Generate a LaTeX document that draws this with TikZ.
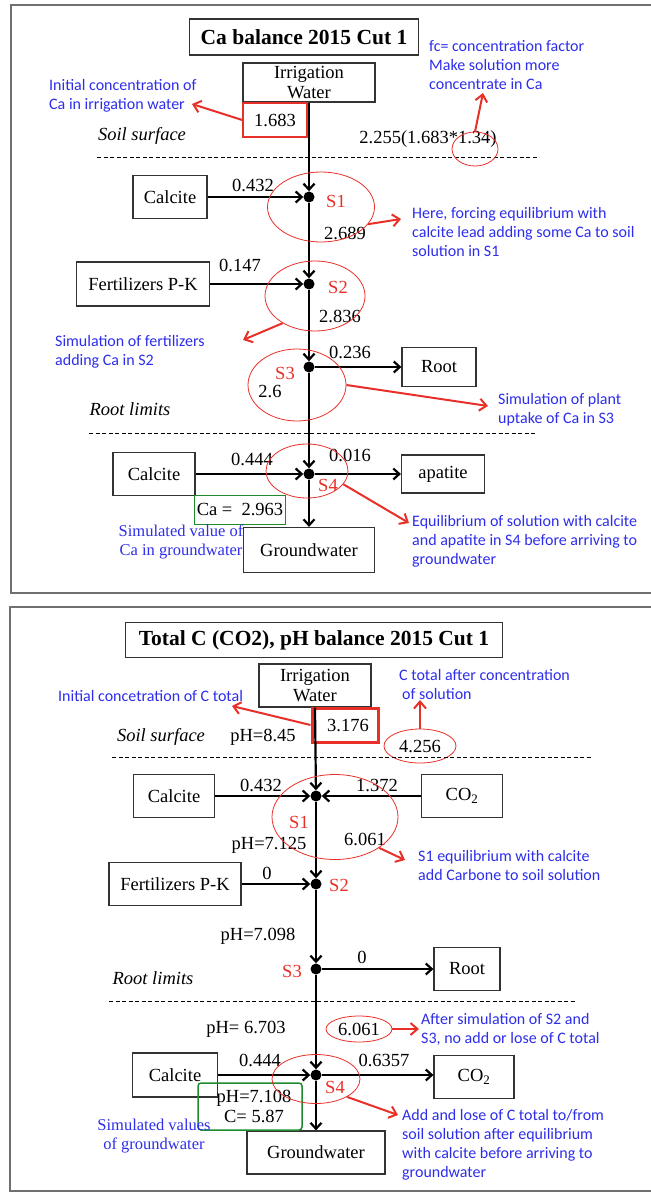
\documentclass[tikz,border=0pt]{standalone}
\usepackage{fontspec}
\setmainfont{Liberation Serif}
\newfontfamily\notefont{Carlito}
\usetikzlibrary{shapes.geometric,arrows.meta}

\definecolor{noteblue}{RGB}{45,45,235}
\definecolor{markred}{RGB}{232,48,40}
\definecolor{okgreen}{RGB}{30,140,45}
\definecolor{framegray}{RGB}{112,112,112}

\newcommand\bodysize{\fontsize{18.5}{20}\selectfont}
\newcommand\notesize{\fontsize{16}{19}\selectfont}
\newcommand\titlesize{\fontsize{21.5}{24}\selectfont}

\begin{document}
\begin{tikzpicture}[
  x=1pt, y=-1pt,
  box/.style={draw=black!80, line width=1.2pt, align=center, inner sep=0pt,
              font=\bodysize},
  heading/.style={box, font=\titlesize\bfseries},
  valbox/.style={draw=markred, line width=1.6pt, inner sep=0pt, font=\bodysize},
  simbox/.style={draw=okgreen, line width=1.5pt, inner sep=0pt, align=center,
                 font=\bodysize},
  dot/.style={circle, fill=black, minimum size=11pt, inner sep=0},
  flow/.style={-{Straight Barb[length=6pt,width=11pt]}, line width=2.2pt},
  callout/.style={-{Straight Barb[length=7pt,width=12pt]}, line width=2pt, markred},
  ring/.style={draw=markred, ellipse, line width=0.8pt, inner sep=0pt, font=\bodysize},
  num/.style={font=\bodysize, inner sep=0},
  tag/.style={font=\bodysize, text=markred, inner sep=0},
  layer/.style={font=\bodysize\itshape, inner sep=0},
  divider/.style={line width=0.9pt, dash pattern=on 4pt off 2.5pt},
  note/.style={font=\notefont\notesize, text=noteblue, align=left, anchor=west,
               inner sep=0},
  simnote/.style={font=\fontsize{16.5}{18.5}\selectfont, text=noteblue,
                  align=center, inner sep=0},
  frame/.style={draw=framegray, line width=1.6pt}
]
\useasboundingbox (0,0) rectangle (650,1193);

%% ── Panel frames ──────────────────────────────────────────────────────────────
\draw[frame] (652,5) -- (11,5) -- (11,593) -- (652,593);
\draw[frame] (652,607) -- (10,607) -- (10,1191) -- (652,1191);

%% ══ Panel 1: Ca balance ══════════════════════════════════════════════════════
\node[heading, minimum width=229pt, minimum height=36pt] (title1) at (304,37)
  {Ca balance 2015 Cut 1};
\node[box, minimum width=132pt, minimum height=39pt] (irr1) at (309,82.5)
  {Irrigation\\Water};
\node[valbox, minimum width=64pt, minimum height=34pt] (val1) at (275,120) {1.683};

\node[layer] (surf1) at (142,136) {Soil surface};
\node[num]   (fc1)   at (428,139) {2.255(1.683*1.34)};
\draw[divider] (97,157) -- (539,157);

% Layers S1..S4 on the main column
\node[dot] (s1) at (309,197) {};
\node[dot] (s2) at (309,284) {};
\node[dot] (s3) at (309,367) {};
\node[dot] (s4) at (309,474) {};

\node[box, minimum width=74pt, minimum height=43pt]  (calc1) at (170,197) {Calcite};
\node[box, minimum width=133pt, minimum height=44pt] (fert1) at (143,284) {Fertilizers P-K};
\node[box, minimum width=74pt, minimum height=39pt]  (root1) at (439,367) {Root};
\node[layer] (lim1) at (130,409) {Root limits};
\draw[divider] (89,433) -- (537,433);
\node[box, minimum width=82pt, minimum height=43pt]  (calc2) at (154,474) {Calcite};
\node[box, minimum width=83pt, minimum height=38pt]  (apat1) at (443,474) {apatite};
\node[box, minimum width=131pt, minimum height=45pt] (gw1)   at (309,550) {Groundwater};
\node[simbox, minimum width=91pt, minimum height=29pt] (sim1) at (240,510) {Ca =~ 2.963};

% Values and layer tags
\node[num] at (253,185) {0.432};
\node[tag] at (336,201) {S1};
\node[num] at (345,233) {2.689};
\node[num] at (240,265) {0.147};
\node[tag] at (338,287) {S2};
\node[num] at (340,316) {2.836};
\node[num] at (350,352) {0.236};
\node[tag] at (285,373) {S3};
\node[num] at (270,392) {2.6};
\node[num] at (252,459) {0.444};
\node[num] at (350,455) {0.016};
\node[tag] at (328,485) {S4};

% Flow
\draw[flow] (irr1.south) -- (s1);
\draw[flow] (s1) -- (s2);
\draw[flow] (s2) -- (s3);
\draw[flow] (s3) -- (s4);
\draw[flow] (s4) -- (gw1);
\draw[flow] (calc1) -- (s1);
\draw[flow] (fert1) -- (s2);
\draw[flow] (s3) -- (root1);
\draw[flow] (calc2) -- (s4);
\draw[flow] (s4) -- (apat1);

% Rings and comments
\node[ring, minimum width=46pt,  minimum height=34pt] (rfc) at (475,149) {};
\node[ring, minimum width=107pt, minimum height=70pt] (r1)  at (321,207) {};
\node[ring, minimum width=100pt, minimum height=70pt] (r2)  at (315,296) {};
\node[ring, minimum width=98pt,  minimum height=72pt] (r3)  at (297,385) {};
\node[ring, minimum width=82pt,  minimum height=54pt] (r4)  at (307,471) {};

\node[note] (n_init) at (49,96)   {Initial concentration of\\Ca in irrigation water};
\node[note] (n_fc)   at (429,65)  {fc= concentration factor\\Make solution more\\concentrate in Ca};
\node[note] (n_s1)   at (412,232) {Here, forcing equilibrium with\\calcite lead adding some Ca to soil\\solution in S1};
\node[note] (n_s2)   at (55,352)  {Simulation of fertilizers\\adding Ca in S2};
\node[note] (n_s3)   at (498,410) {Simulation of plant\\uptake of Ca in S3};
\node[note] (n_s4)   at (412,541) {Equilibrium of solution with calcite\\and apatite in S4 before arriving to\\groundwater};
\node[simnote] (n_gw1) at (181,542) {Simulated value of\\Ca in groundwater};

\coordinate (e_init) at (192,104);
\coordinate (e_fc)   at (483,93);
\coordinate (e_s1)   at (401,219);
\coordinate (e_s2)   at (243,340);
\coordinate (e_s3)   at (488,406);
\coordinate (e_s4)   at (409,523);

\draw[callout] (val1.west) -- (e_init);
\draw[callout] (rfc.north) -- (e_fc);
\draw[callout] (r1.-20) -- (e_s1);
\draw[callout] (r2.-140) -- (e_s2);
\draw[callout] (r3.east) -- (e_s3);
\draw[callout] (r4.-20) -- (e_s4);

%% ══ Panel 2: total C and pH balance ══════════════════════════════════════════
\node[heading, minimum width=377pt, minimum height=35pt] (title2) at (314,640)
  {Total C (CO2), pH balance 2015 Cut 1};
\node[box, minimum width=112pt, minimum height=43pt] (irr2) at (315,685.5)
  {Irrigation\\Water};
\node[valbox, line width=3pt, minimum width=66pt, minimum height=34pt] (val2)
  at (345,725) {\hspace{6pt}3.176};

\node[layer] (surf2) at (161,737) {Soil surface};
\node[num]   (ph0)   at (263,737) {pH=8.45};
\node[ring, minimum width=72pt, minimum height=34pt] (rc) at (420,746) {4.256\hspace{10pt}};
\draw[divider] (112,757) -- (591,757);

\node[dot] (d1) at (316,796) {};
\node[dot] (d2) at (316,884) {};
\node[dot] (d3) at (316,969) {};
\node[dot] (d4) at (316,1075) {};

\node[box, minimum width=81pt, minimum height=43pt]  (calc3) at (174,796) {Calcite};
\node[box, minimum width=81pt, minimum height=43pt]  (co2a)  at (462,796) {CO\textsubscript{2}};
\node[box, minimum width=132pt, minimum height=43pt] (fert2) at (175,884) {Fertilizers P-K};
\node[box, minimum width=66pt, minimum height=43pt]  (root2) at (467,969) {Root};
\node[layer] (lim2) at (153,978) {Root limits};
\draw[divider] (109,1001) -- (575,1001);
\node[box, minimum width=85pt, minimum height=44pt]  (calc4) at (175,1075) {Calcite};
\node[box, minimum width=80pt, minimum height=43pt]  (co2b)  at (474,1077) {CO\textsubscript{2}};
\node[box, minimum width=138pt, minimum height=43pt] (gw2)   at (316,1152.5) {Groundwater};
\node[simbox, rounded corners=3pt, minimum width=104pt, minimum height=47pt] (sim2)
  at (250,1106.5) {\hspace{8pt}pH=7.108\\\hspace{8pt}C= 5.87};

% Values and layer tags
\node[num] at (261,785)  {0.432};
\node[num] at (377,785)  {1.372};
\node[tag] at (299,822)  {S1};
\node[num] at (269,845)  {pH=7.125};
\node[num] at (365,839)  {6.061};
\node[num] at (267,873)  {0};
\node[tag] at (339,885)  {S2};
\node[num] at (258,936)  {pH=7.098};
\node[tag] at (292,971)  {S3};
\node[num] at (362,957)  {0};
\node[num] at (246,1029) {pH=~6.703};
\node[num] at (260,1060) {0.444};
\node[num] at (384,1060) {0.6357};
\node[tag] at (335,1087) {S4};

% Flow
\draw[flow] (irr2.south) -- (d1);
\draw[flow] (d1) -- (d2);
\draw[flow] (d2) -- (d3);
\draw[flow] (d3) -- (d4);
\draw[flow] (d4) -- (gw2);
\draw[flow] (calc3) -- (d1);
\draw[flow] (co2a) -- (d1);
\draw[flow] (fert2) -- (d2);
\draw[flow] (d3) -- (root2);
\draw[flow] (calc4) -- (d4);
\draw[flow] (d4) -- (co2b.west |- d4);

% Rings and comments
\node[ring, minimum width=126pt, minimum height=85pt] (rs1) at (335,817)  {};
\node[ring, minimum width=66pt,  minimum height=26pt] (rc2) at (359,1029) {6.061};
\node[ring, minimum width=88pt,  minimum height=49pt] (rs4) at (316,1079) {};

\node[note] (n_initc) at (58,696)   {Initial concetration of C total};
\node[note] (n_ctot)  at (399,684)  {C total after concentration\\\hspace{3pt}of solution};
\node[note] (n_c1)    at (418,865)  {S1 equilibrium with calcite\\add Carbone to soil solution};
\node[note] (n_c2)    at (421,1029) {After simulation of S2 and\\S3, no add or lose of C total};
\node[note] (n_c4)    at (402,1145) {Add and lose of C total to/from\\soil solution after equilibrium\\with calcite before arriving to\\groundwater};
\node[simnote] (n_gw2) at (154,1136) {Simulated values\\of groundwater};

\coordinate (e_initc) at (232,706);
\coordinate (e_ctot)  at (420,700);
\coordinate (e_c1)    at (405,860);
\coordinate (e_c2)    at (419,1029);
\coordinate (e_c4)    at (398,1115);

\draw[callout] (val2.west) -- (e_initc);
\draw[callout] (rc.north) -- (e_ctot);
\draw[callout] (rs1.-35) -- (e_c1);
\draw[callout] (rc2.east) -- (e_c2);
\draw[callout] (rs4.-30) -- (e_c4);

\end{tikzpicture}
\end{document}
